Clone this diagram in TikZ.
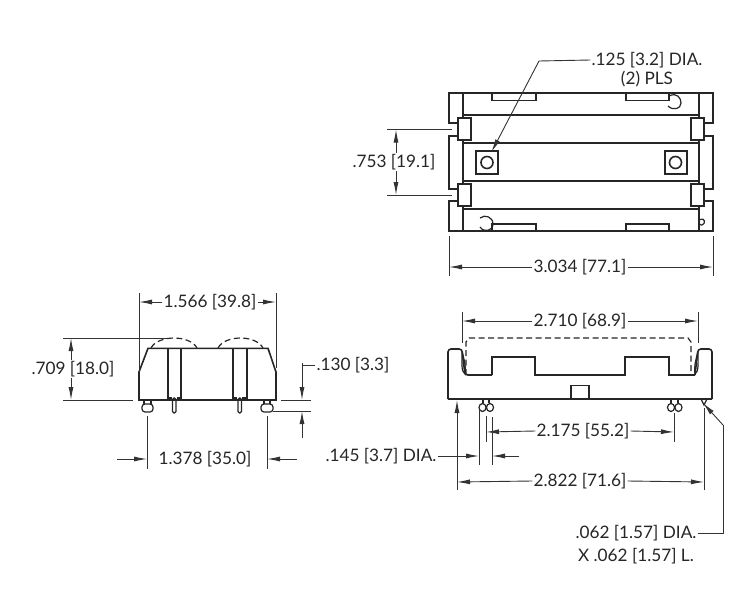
\documentclass[tikz,border=0pt]{standalone}
\usepackage{fontspec}
\setmainfont{Lato}
\usepackage{tikz}
\usetikzlibrary{arrows.meta}

\begin{document}
\begin{tikzpicture}[x=1pt,y=-1pt,line join=miter,
	part/.style={draw=black!85,line width=1.6pt},
	thinpart/.style={draw=black!85,line width=1.2pt},
	hidden/.style={draw=black!85,line width=1.2pt,dash pattern=on 6pt off 3.5pt},
	extline/.style={draw=black!80,line width=0.9pt},
	dimline/.style={extline,-{Latex[length=13pt,width=5pt]}},
	dimtext/.style={inner sep=1pt,font=\fontsize{17.2}{20}\selectfont,text=black!85}]
	
	\path[use as bounding box,fill=white] (0,0) rectangle (750,594);
	
	% top view
	\draw[part] (458,123) -- (449,123) -- (449,93) -- (713,93) -- (713,123) -- (704,123);
	\draw[part] (458,136) -- (449,136) -- (449,189) -- (458,189);
	\draw[part] (458,201) -- (449,201) -- (449,231) -- (713,231) -- (713,201) -- (704,201);
	\draw[part] (704,136) -- (713,136) -- (713,189) -- (704,189);
	\draw[part] (463,93) -- (463,118) (463,140) -- (463,184) (463,206) -- (463,231);
	\draw[part] (699,93) -- (699,118) (699,140) -- (699,184) (699,206) -- (699,231);
	\draw[part] (463,115) -- (699,115) (463,143) -- (699,143) (463,181) -- (699,181) (463,209) -- (699,209);
	\draw[part] (458,118) rectangle (471,140) (458,184) rectangle (471,206);
	\draw[part] (691,118) rectangle (704,140) (691,184) rectangle (704,206);
	\draw[part] (492,93) -- (492,100.5) -- (536,100.5) -- (536,93);
	\draw[part] (626,93) -- (626,100.5) -- (669,100.5) -- (669,93);
	\draw[part] (492,231) -- (492,224) -- (536,224) -- (536,231);
	\draw[part] (626,231) -- (626,224) -- (669,224) -- (669,231);
	\draw[part] (476,151) rectangle (498,174) (665,151) rectangle (687,174);
	\draw[part] (487,162.5) circle[radius=6] (675.5,162.5) circle[radius=6];
	\draw[thinpart] (669,96) .. controls (677,92) and (681,98) .. (681,103) .. controls (681,109) and (673,111) .. (668,106);
	\draw[thinpart] (480,218) .. controls (485,214) and (493,217) .. (493,224) .. controls (493,231) and (484,233) .. (480,227);
	\draw[thinpart] (700,219.5) .. controls (705,217) and (706,224) .. (702,225) .. controls (701,225) and (700,225) .. (700,224);
	
	\node[dimtext] (holetext) at (647,60) {.125 [3.2] DIA.};
	\node[dimtext] (plstext) at (647,79) {(2) PLS};
	\coordinate (holebend) at (539,61);
	\coordinate (holetip) at (491.5,152);
	\draw[extline] (holetext.west) -- (holebend);
	\draw[dimline] (holebend) -- (holetip);
	
	\coordinate (tabtopa) at (387,129.5);
	\coordinate (tabtopb) at (452,129.5);
	\coordinate (tabbota) at (387,195);
	\coordinate (tabbotb) at (452,195);
	\coordinate (tabtopc) at (396,129.5);
	\coordinate (tabbotc) at (396,195);
	\node[dimtext] (pitchtext) at (394,162) {.753 [19.1]};
	\draw[extline] (tabtopa) -- (tabtopb);
	\draw[extline] (tabbota) -- (tabbotb);
	\draw[dimline] (pitchtext.north -| tabtopc) -- (tabtopc);
	\draw[dimline] (pitchtext.south -| tabbotc) -- (tabbotc);
	
	\coordinate (widtha) at (449,236);
	\coordinate (widthb) at (449,276);
	\coordinate (widthc) at (713,236);
	\coordinate (widthd) at (713,276);
	\coordinate (widthl) at (449,267);
	\coordinate (widthr) at (713,267);
	\node[dimtext] (widthtext) at (580,267) {3.034 [77.1]};
	\draw[extline] (widtha) -- (widthb);
	\draw[extline] (widthc) -- (widthd);
	\draw[dimline] (widthtext.west) -- (widthl);
	\draw[dimline] (widthtext.east) -- (widthr);
	
	% side view
	\draw[part] (139,372) -- (148,348.3) -- (268,348.3) -- (276,372) -- (276,400) -- (139,400) -- cycle;
	\draw[part] (168,348.3) -- (168,400) (181,348.3) -- (181,400) (233,348.3) -- (233,400) (247,348.3) -- (247,400);
	\draw[hidden] (151,348) .. controls (158,334.7) and (190,334.7) .. (197,348);
	\draw[hidden] (218,348) .. controls (225,334.7) and (256,334.7) .. (263,348);
	\draw[thinpart,rounded corners=3pt] (142,404) rectangle (153,412);
	\draw[thinpart] (144,400) -- (144,404) (151,400) -- (151,404);
	\draw[thinpart,rounded corners=3pt] (261,404) rectangle (273,412);
	\draw[thinpart] (264,400) -- (264,404) (270,400) -- (270,404);
	\draw[thinpart,rounded corners=1.5pt] (172.5,398) rectangle (176,413);
	\draw[thinpart,rounded corners=1.5pt] (238,398) rectangle (241.5,413);
	\draw[thinpart] (169,398) -- (172,398) (177,398) -- (180,398) (234,398) -- (237,398) (242,398) -- (246,398);
	
	\coordinate (deptha) at (139,293);
	\coordinate (depthb) at (139,372);
	\coordinate (depthc) at (276,293);
	\coordinate (depthd) at (276,368);
	\coordinate (depthl) at (139,302);
	\coordinate (depthr) at (276,302);
	\node[dimtext] (depthtext) at (210,302) {1.566 [39.8]};
	\draw[extline] (deptha) -- (depthb);
	\draw[extline] (depthc) -- (depthd);
	\draw[dimline] (depthtext.west) -- (depthl);
	\draw[dimline] (depthtext.east) -- (depthr);
	
	\coordinate (heighta) at (63,338);
	\coordinate (heightb) at (167,338);
	\coordinate (heightc) at (63,400);
	\coordinate (heightd) at (133,400);
	\coordinate (heightt) at (71,338);
	\coordinate (heightu) at (71,400);
	\node[dimtext] (heighttext) at (73,369) {.709 [18.0]};
	\draw[extline] (heighta) -- (heightb);
	\draw[extline] (heightc) -- (heightd);
	\draw[dimline] (heighttext.north -| heightt) -- (heightt);
	\draw[dimline] (heighttext.south -| heightu) -- (heightu);
	
	\coordinate (pitcha) at (147,416);
	\coordinate (pitchb) at (147,469);
	\coordinate (pitchc) at (267,416);
	\coordinate (pitchd) at (267,469);
	\coordinate (pitche) at (117,459);
	\coordinate (pitchf) at (147,459);
	\coordinate (pitchg) at (297,459);
	\coordinate (pitchh) at (267,459);
	\node[dimtext] (postext) at (205,459) {1.378 [35.0]};
	\draw[extline] (pitcha) -- (pitchb);
	\draw[extline] (pitchc) -- (pitchd);
	\draw[dimline] (pitche) -- (pitchf);
	\draw[dimline] (pitchg) -- (pitchh);
	
	\coordinate (liftbend) at (302,363);
	\coordinate (lifttop) at (302,400);
	\coordinate (liftbot) at (302,411);
	\coordinate (lifttail) at (302,438);
	\coordinate (lifta) at (281,400);
	\coordinate (liftb) at (311,400);
	\coordinate (liftc) at (273,411);
	\coordinate (liftd) at (311,411);
	\node[dimtext] (lifttext) at (353,365) {.130 [3.3]};
	\draw[extline] (lifta) -- (liftb);
	\draw[extline] (liftc) -- (liftd);
	\draw[extline] (lifttext.west) -- (lifttext.west -| liftbend) -- (liftbend);
	\draw[dimline] (liftbend) -- (lifttop);
	\draw[dimline] (lifttail) -- (liftbot);
	
	% front view
	\draw[part,rounded corners=3pt] (448,399) -- (448,349) -- (462,349) -- (465,375) -- (492,375);
	\draw[part] (492,375) -- (492,357) -- (535,357) -- (535,375) -- (625,375) -- (625,357) -- (669,357) -- (669,375) -- (695,375);
	\draw[part,rounded corners=3pt] (695,375) -- (698,349) -- (712,349) -- (712,399);
	\draw[part] (448,399) -- (712,399);
	\draw[part] (571,399) -- (571,385.5) -- (589,385.5) -- (589,399);
	\draw[thinpart] (462,352) .. controls (462,362) and (461,372) .. (465,374) .. controls (466,368) and (465,362) .. (462,352);
	\draw[thinpart] (698,352) .. controls (698,362) and (699,372) .. (695,374) .. controls (694,368) and (695,362) .. (698,352);
	\draw[hidden] (466,375) -- (466,342) -- (469,338) -- (688,338) -- (691,342) -- (691,375);
	\draw[thinpart] (483,399) -- (483,403) (489,399) -- (489,403) (671,399) -- (671,403) (678,399) -- (678,403);
	\draw[thinpart] (482.5,407.5) ellipse[x radius=3.5,y radius=4] (490,407.5) ellipse[x radius=3.5,y radius=4];
	\draw[thinpart] (671,407.5) ellipse[x radius=3.5,y radius=4] (678.5,407.5) ellipse[x radius=3.5,y radius=4];
	\draw[thinpart] (701.5,400) -- (704,405) -- (706.5,400);
	
	\coordinate (widea) at (462,312);
	\coordinate (wideb) at (462,343);
	\coordinate (widec) at (698,312);
	\coordinate (wided) at (698,343);
	\coordinate (widel) at (462,321);
	\coordinate (wider) at (698,321);
	\node[dimtext] (widetext) at (580,321) {2.710 [68.9]};
	\draw[extline] (widea) -- (wideb);
	\draw[extline] (widec) -- (wided);
	\draw[dimline] (widetext.west) -- (widel);
	\draw[dimline] (widetext.east) -- (wider);
	
	\coordinate (spana) at (486,416);
	\coordinate (spanb) at (486,442);
	\coordinate (spanc) at (674,413);
	\coordinate (spand) at (674,442);
	\coordinate (spanl) at (486,432);
	\coordinate (spanr) at (674,432);
	\node[dimtext] (spantext) at (583,431) {2.175 [55.2]};
	\draw[extline] (spana) -- (spanb);
	\draw[extline] (spanc) -- (spand);
	\draw[dimline] (spantext.west) -- (spanl);
	\draw[dimline] (spantext.east) -- (spanr);
	
	\coordinate (diaa) at (479,410);
	\coordinate (diab) at (479,465);
	\coordinate (diac) at (492,417);
	\coordinate (diad) at (492,465);
	\coordinate (dial) at (479,456);
	\coordinate (diar) at (492,456);
	\coordinate (diatail) at (519,456);
	\node[dimtext] (diatext) at (381,456) {.145 [3.7] DIA.};
	\draw[extline] (diaa) -- (diab);
	\draw[extline] (diac) -- (diad);
	\draw[dimline] (diatext.east) -- (dial);
	\draw[dimline] (diatail) -- (diar);
	
	\coordinate (basea) at (457,490);
	\coordinate (baseb) at (457,400);
	\coordinate (basec) at (704,490);
	\coordinate (based) at (704,408);
	\coordinate (basel) at (457,482);
	\coordinate (baser) at (704,482);
	\node[dimtext] (basetext) at (580,481) {2.822 [71.6]};
	\draw[dimline] (basea) -- (baseb);
	\draw[extline] (basec) -- (based);
	\draw[dimline] (basetext.west) -- (basel);
	\draw[dimline] (basetext.east) -- (baser);
	
	\node[dimtext] (postaltext) at (636,533) {.062 [1.57] DIA.};
	\node[dimtext] (postbltext) at (636,556) {X .062 [1.57] L.};
	\coordinate (postcorner) at (723,533);
	\coordinate (postbend) at (723,425);
	\coordinate (posttip) at (703,403);
	\draw[extline] (postaltext.east) -- (postcorner) -- (postbend);
	\draw[dimline] (postbend) -- (posttip);
\end{tikzpicture}
\end{document}
